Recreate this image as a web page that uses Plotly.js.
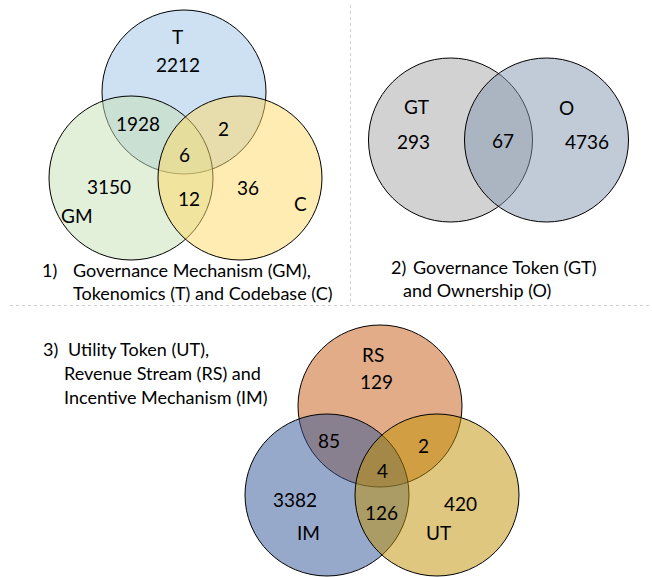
<!DOCTYPE html>
<html><head><meta charset="utf-8">
<script src="https://cdn.plot.ly/plotly-3.0.1.min.js"></script>
<style>html,body{margin:0;padding:0;background:#fff;}#chart{width:652px;height:577px;}</style>
</head><body><div id="chart"></div>
<script>
// ---------- DATA ----------
// Panel 1: Governance Mechanism (GM), Tokenomics (T), Codebase (C)
const sets1 = ['T', 'GM', 'C'];
const regions1 = ['T only', 'GM∩T', 'T∩C', 'GM∩T∩C', 'GM only', 'GM∩C', 'C only'];
const counts1 = [2212, 1928, 2, 6, 3150, 12, 36];
const caption1 = ['1)', 'Governance Mechanism (GM),', 'Tokenomics (T) and Codebase (C)'];

// Panel 2: Governance Token (GT), Ownership (O)
const sets2 = ['GT', 'O'];
const regions2 = ['GT only', 'GT∩O', 'O only'];
const counts2 = [293, 67, 4736];
const caption2 = ['2)', 'Governance Token (GT)', 'and Ownership (O)'];

// Panel 3: Utility Token (UT), Revenue Stream (RS), Incentive Mechanism (IM)
const sets3 = ['RS', 'IM', 'UT'];
const regions3 = ['RS only', 'IM∩RS', 'RS∩UT', 'IM∩RS∩UT', 'IM only', 'IM∩UT', 'UT only'];
const counts3 = [129, 85, 2, 4, 3382, 126, 420];
const caption3 = ['3)', 'Utility Token (UT),', 'Revenue Stream (RS) and', 'Incentive Mechanism (IM)'];

// ---------- LAYOUT (positions / styles) ----------
const FONT = 'Lato, "Open Sans", sans-serif';
const NUM_SIZE = 19, CAP_SIZE = 18;

// circles: [cx, cy, rx, ry, fill]
const circ1 = [
  [184, 92, 82, 82, 'rgba(157,195,230,0.5)'],
  [131, 178, 82, 82, 'rgba(197,224,180,0.5)'],
  [240, 178, 82, 82, 'rgba(255,217,102,0.5)']
];
const circ2 = [
  [450.5, 140, 82, 82, 'rgba(165,165,165,0.5)'],
  [546.5, 140, 82, 82, 'rgba(132,151,176,0.5)']
];
const circ3 = [
  [380, 406, 82, 81, 'rgba(197,90,17,0.5)'],
  [327, 495, 82, 81, 'rgba(47,84,150,0.5)'],
  [437, 495, 82, 81, 'rgba(191,144,0,0.5)']
];
const setPos1 = [[177, 36], [77, 215], [300, 203]];
const regPos1 = [[178, 64], [138, 123], [223, 128], [184, 154], [109, 186], [189, 198], [248, 187]];
const setPos2 = [[416, 106], [566, 107]];
const regPos2 = [[413, 141], [503, 140], [587, 141]];
const setPos3 = [[373, 354], [308, 532], [438, 532]];
const regPos3 = [[376, 381], [329, 440], [423, 445], [382, 470], [295, 499], [381, 512], [460, 503]];

const shapes = [];
function addCircles(list) {
  list.forEach(c => shapes.push({
    type: 'circle', xref: 'x', yref: 'y',
    x0: c[0] - c[2], x1: c[0] + c[2], y0: c[1] - c[3], y1: c[1] + c[3],
    fillcolor: c[4], line: {color: '#000', width: 1}
  }));
}
addCircles(circ1); addCircles(circ2); addCircles(circ3);
// dashed separators
shapes.push({type: 'line', xref: 'x', yref: 'y', x0: 350.5, x1: 350.5, y0: 5, y1: 305,
  line: {color: '#d0d0d0', width: 1, dash: '3px,3px'}});
shapes.push({type: 'line', xref: 'x', yref: 'y', x0: 10, x1: 652, y0: 305.5, y1: 305.5,
  line: {color: '#d0d0d0', width: 1, dash: '3px,3px'}});

const annotations = [];
function txt(t, x, y, size, anchor) {
  annotations.push({text: String(t), x: x, y: y, xref: 'x', yref: 'y', showarrow: false,
    xanchor: anchor || 'center', yanchor: 'middle', align: 'left',
    font: {family: FONT, size: size, color: '#000'}});
}
sets1.forEach((s, i) => txt(s, setPos1[i][0], setPos1[i][1], NUM_SIZE));
counts1.forEach((v, i) => txt(v, regPos1[i][0], regPos1[i][1], NUM_SIZE));
sets2.forEach((s, i) => txt(s, setPos2[i][0], setPos2[i][1], NUM_SIZE));
counts2.forEach((v, i) => txt(v, regPos2[i][0], regPos2[i][1], NUM_SIZE));
sets3.forEach((s, i) => txt(s, setPos3[i][0], setPos3[i][1], NUM_SIZE));
counts3.forEach((v, i) => txt(v, regPos3[i][0], regPos3[i][1], NUM_SIZE));

// captions
txt(caption1[0], 40, 270, CAP_SIZE, 'left');
txt(caption1[1], 71, 270, CAP_SIZE, 'left');
txt(caption1[2], 71, 293, CAP_SIZE, 'left');
txt(caption2[0], 389, 267, CAP_SIZE, 'left');
txt(caption2[1], 411, 267, CAP_SIZE, 'left');
txt(caption2[2], 401, 290, CAP_SIZE, 'left');
txt(caption3[0], 41, 349, CAP_SIZE, 'left');
txt(caption3[1], 66, 349, CAP_SIZE, 'left');
txt(caption3[2], 62, 373, CAP_SIZE, 'left');
txt(caption3[3], 62, 397, CAP_SIZE, 'left');

const layout = {
  width: 652, height: 577,
  margin: {l: 0, r: 0, t: 0, b: 0},
  paper_bgcolor: '#fff', plot_bgcolor: '#fff',
  xaxis: {range: [0, 652], visible: false, fixedrange: true},
  yaxis: {range: [577, 0], visible: false, fixedrange: true},
  showlegend: false,
  shapes: shapes,
  annotations: annotations
};
Plotly.newPlot('chart', [], layout, {displayModeBar: false, staticPlot: true});
</script>
</body></html>
